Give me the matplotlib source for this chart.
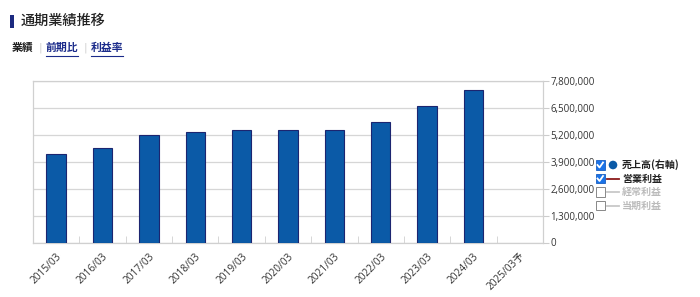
import numpy as np
import matplotlib
matplotlib.use('Agg')
import matplotlib.pyplot as plt
from matplotlib.lines import Line2D
from matplotlib.patches import Rectangle, Ellipse

plt.rcParams['font.family'] = ['Noto Sans CJK JP', 'DejaVu Sans']

# data
periods = ['2015/03', '2016/03', '2017/03', '2018/03', '2019/03', '2020/03',
           '2021/03', '2022/03', '2023/03', '2024/03', '2025/03予']
sales = [4274000, 4550000, 5177000, 5337000, 5419000, 5419000,
         5420000, 5820000, 6592000, 7365000, np.nan]
y_ticks = [0, 1300000, 2600000, 3900000, 5200000, 6500000, 7800000]

legend_items = ['売上高(右軸)', '営業利益', '経常利益', '当期利益']
legend_on = [True, True, False, False]

W, H = 700, 297
fig = plt.figure(figsize=(W / 100, H / 100), dpi=100)
ax = fig.add_axes([33 / W, 1 - 242.5 / H, (543 - 33) / W, (242.5 - 81) / H])

x = np.arange(len(periods))
ax.bar(x, sales, width=0.42, color='#0b5aa7', edgecolor='#1c2570', linewidth=0.8, zorder=3)

ax.set_xlim(-0.5, len(periods) - 0.5)
ax.set_ylim(0, y_ticks[-1])
ax.yaxis.tick_right()
ax.set_yticks(y_ticks)
ax.set_yticklabels([f'{v:,}' for v in y_ticks], fontsize=7, color='#333333',
                   family='Open Sans')
ax.tick_params(axis='y', direction='out', length=4, color='#cccccc', pad=1.5)
ax.grid(axis='y', color='#d6d6d6', linewidth=0.9, zorder=0)

ax.set_xticks(x)
ax.set_xticklabels(periods, rotation=45, ha='right', va='top', fontsize=7.3,
                   color='#333333', rotation_mode='anchor',
                   family=['Open Sans', 'Noto Sans CJK JP'])
ax.tick_params(axis='x', length=0, pad=6)
ax.set_xticks(np.arange(0.5, len(periods) - 0.5), minor=True)
ax.tick_params(axis='x', which='minor', direction='in', length=5, color='#d0d0d0')

for side in ['left', 'top', 'right', 'bottom']:
    ax.spines[side].set_color('#d0d0d0')
    ax.spines[side].set_linewidth(0.9)


def fx(px):
    return px / W


def fy(py):
    return 1 - py / H


# title block
fig.patches.append(Rectangle((fx(10), fy(28)), 4 / W, 13 / H, transform=fig.transFigure,
                             facecolor='#1c2a80', edgecolor='none'))
fig.text(fx(21), fy(21), '通期業績推移', fontsize=10.2, fontweight='medium',
         color='#222222', va='center', ha='left')

fig.text(fx(12), fy(48), '業績', fontsize=7.8, fontweight='bold', color='#222222',
         va='center', ha='left')
fig.text(fx(38.5), fy(48), '|', fontsize=8, color='#d0d0d0', va='center', ha='left',
         family='DejaVu Sans')
fig.text(fx(46), fy(48), '前期比', fontsize=7.8, fontweight='bold', color='#1a2a8a',
         va='center', ha='left')
fig.text(fx(83.5), fy(48), '|', fontsize=8, color='#d0d0d0', va='center', ha='left',
         family='DejaVu Sans')
fig.text(fx(91), fy(48), '利益率', fontsize=7.8, fontweight='bold', color='#1a2a8a',
         va='center', ha='left')
for x0, x1 in [(46, 78), (91, 123)]:
    fig.add_artist(Line2D([fx(x0), fx(x1)], [fy(55.5), fy(55.5)], transform=fig.transFigure,
                          color='#1a2a8a', linewidth=0.8))

# legend
row_y = [165, 178.5, 192, 205.5]
for i, (label, on) in enumerate(zip(legend_items, legend_on)):
    yc = row_y[i]
    box_x, box_s = 595.5, 9.5
    if on:
        fig.patches.append(Rectangle((fx(box_x), fy(yc + box_s / 2)), box_s / W, box_s / H,
                                     transform=fig.transFigure, facecolor='#1a73e8',
                                     edgecolor='#1a5fc0', linewidth=0.6))
        fig.add_artist(Line2D([fx(box_x + 2), fx(box_x + 4), fx(box_x + 7.5)],
                              [fy(yc), fy(yc + 2.5), fy(yc - 2.5)],
                              transform=fig.transFigure, color='white', linewidth=1.3))
    else:
        fig.patches.append(Rectangle((fx(box_x), fy(yc + box_s / 2)), box_s / W, box_s / H,
                                     transform=fig.transFigure, facecolor='white',
                                     edgecolor='#888888', linewidth=0.7))
    if i == 0:
        fig.patches.append(Ellipse((fx(613), fy(yc)), 8.6 / W, 8.6 / H,
                                   transform=fig.transFigure, facecolor='#0b5aa7',
                                   edgecolor='none'))
    else:
        lc = '#8b1a1a' if on else '#c8c8c8'
        fig.add_artist(Line2D([fx(607), fx(619)], [fy(yc), fy(yc)], transform=fig.transFigure,
                              color=lc, linewidth=1.3))
    fig.text(fx(622), fy(yc), label, fontsize=7.2, fontweight='bold',
             color='#222222' if on else '#bbbbbb', va='center', ha='left')

fig.savefig('out.png', dpi=100)
